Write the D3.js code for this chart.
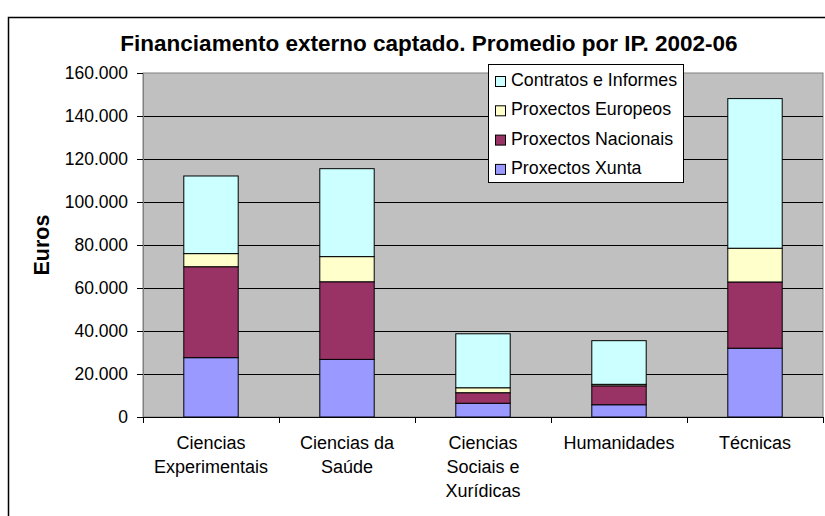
<!DOCTYPE html>
<html>
<head>
<meta charset="utf-8">
<script src="https://cdn.jsdelivr.net/npm/d3@7"></script>
<style>
  body { margin: 0; background: #fff; }
  text { font-family: "Liberation Sans", Arial, sans-serif; fill: #000; }
</style>
</head>
<body>
<svg width="825" height="516"></svg>
<script>
// categories (line breaks as in the original axis labels)
const categories = ["Ciencias Experimentais", "Ciencias da Saúde", "Ciencias Sociais e Xurídicas", "Humanidades", "Técnicas"];
const catLines = [["Ciencias", "Experimentais"], ["Ciencias da", "Saúde"], ["Ciencias", "Sociais e", "Xurídicas"], ["Humanidades"], ["Técnicas"]];

// series, bottom to top
const seriesNames = ["Proxectos Xunta", "Proxectos Nacionais", "Proxectos Europeos", "Contratos e Informes"];
const xunta     = [27600, 26800, 6400, 5700, 32000];
const nacionais = [42300, 36100, 4900, 8800, 30800];
const europeos  = [6100, 11700, 2300, 700, 15700];
const contratos = [36100, 40900, 25100, 20300, 69600];
const colors = ["#9999FF", "#993366", "#FFFFCC", "#CCFFFF"];

const yTicks = [0, 20000, 40000, 60000, 80000, 100000, 120000, 140000, 160000];

const svg = d3.select("svg");

// outer chart border
svg.append("rect")
  .attr("x", 8.5).attr("y", 17.5)
  .attr("width", 830).attr("height", 520)
  .attr("fill", "#fff").attr("stroke", "#000").attr("stroke-width", 1.5);

const pLeft = 143, pRight = 823, pTop = 73, pBottom = 417;

const x = d3.scaleBand().domain(categories).range([pLeft, pRight]).paddingInner(0.6).paddingOuter(0.3);
const xCat = d3.scaleBand().domain(categories).range([pLeft, pRight]);
const y = d3.scaleLinear().domain([0, 160000]).range([pBottom, pTop]);

// plot background
svg.append("rect")
  .attr("x", pLeft).attr("y", pTop)
  .attr("width", pRight - pLeft).attr("height", pBottom - pTop)
  .attr("fill", "#C0C0C0").attr("stroke", "#808080");

// gridlines
svg.append("g").selectAll("line")
  .data(yTicks.filter(d => d > 0 && d < 160000))
  .join("line")
  .attr("x1", pLeft).attr("x2", pRight)
  .attr("y1", d => Math.round(y(d)) + 0.5).attr("y2", d => Math.round(y(d)) + 0.5)
  .attr("stroke", "#000");

// stacked bars
const rows = categories.map((c, i) => ({cat: c, s0: xunta[i], s1: nacionais[i], s2: europeos[i], s3: contratos[i]}));
const stack = d3.stack().keys(["s0", "s1", "s2", "s3"])(rows);

svg.append("g").selectAll("g")
  .data(stack)
  .join("g")
  .attr("fill", (d, i) => colors[i])
  .selectAll("rect")
  .data(d => d)
  .join("rect")
  .attr("x", d => x(d.data.cat))
  .attr("width", x.bandwidth())
  .attr("y", d => y(d[1]))
  .attr("height", d => y(d[0]) - y(d[1]))
  .attr("stroke", "#000").attr("stroke-width", 1);

// y axis
const yAxis = d3.axisLeft(y).tickValues(yTicks).tickSize(6).tickPadding(9)
  .tickFormat(d => d3.format(",")(d).replace(/,/g, "."));
const ya = svg.append("g").attr("transform", `translate(${pLeft},0)`).call(yAxis);
ya.select(".domain").attr("stroke", "#808080");
ya.selectAll(".tick line").attr("stroke", "#000");
ya.selectAll("text").attr("font-size", 17.5).attr("font-family", "Liberation Sans, Arial, sans-serif");

// x axis
svg.append("line").attr("x1", pLeft).attr("x2", pRight).attr("y1", pBottom + 0.5).attr("y2", pBottom + 0.5).attr("stroke", "#000");
svg.append("g").selectAll("line")
  .data(categories.concat(["end"]))
  .join("line")
  .attr("x1", (d, i) => pLeft + i * xCat.step() + 0.5)
  .attr("x2", (d, i) => pLeft + i * xCat.step() + 0.5)
  .attr("y1", pBottom).attr("y2", pBottom + 6)
  .attr("stroke", "#000");

const labels = svg.append("g").selectAll("text")
  .data(categories)
  .join("text")
  .attr("text-anchor", "middle")
  .attr("font-size", 18)
  .attr("x", d => xCat(d) + xCat.bandwidth() / 2)
  .attr("y", 449);
labels.each(function(d, i) {
  d3.select(this).selectAll("tspan")
    .data(catLines[i])
    .join("tspan")
    .attr("x", xCat(d) + xCat.bandwidth() / 2)
    .attr("dy", (t, j) => j === 0 ? 0 : 24)
    .text(t => t);
});

// title
svg.append("text")
  .attr("x", 429).attr("y", 51)
  .attr("text-anchor", "middle")
  .attr("font-size", 22.5).attr("font-weight", "bold")
  .text("Financiamento externo captado. Promedio por IP. 2002-06");

// y axis title
svg.append("text")
  .attr("transform", "translate(49,245) rotate(-90)")
  .attr("text-anchor", "middle")
  .attr("font-size", 21.5).attr("font-weight", "bold")
  .text("Euros");

// legend (top series first)
const legend = svg.append("g");
legend.append("rect")
  .attr("x", 488.5).attr("y", 64.5).attr("width", 195).attr("height", 118)
  .attr("fill", "#fff").attr("stroke", "#000");
const legendOrder = [3, 2, 1, 0];
const li = legend.selectAll("g.item")
  .data(legendOrder)
  .join("g").attr("class", "item")
  .attr("transform", (d, i) => `translate(0,${86 + i * 29.3})`);
li.append("rect")
  .attr("x", 495.5).attr("y", -9.5).attr("width", 10).attr("height", 10)
  .attr("fill", d => colors[d]).attr("stroke", "#000");
li.append("text")
  .attr("x", 511).attr("y", 0)
  .attr("font-size", 17.8)
  .text(d => seriesNames[d]);
</script>
</body>
</html>
